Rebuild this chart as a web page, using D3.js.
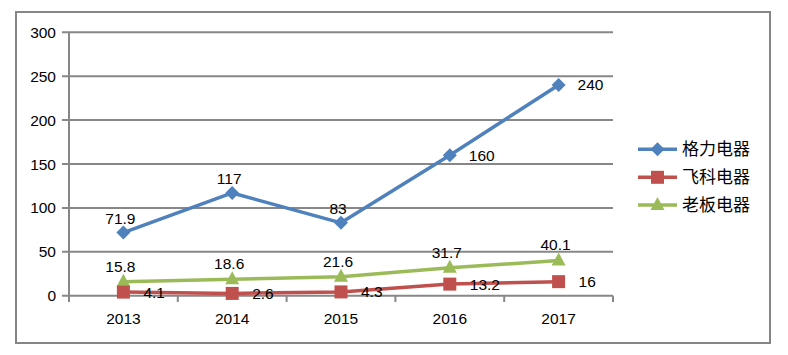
<!DOCTYPE html>
<html><head><meta charset="utf-8">
<script src="https://cdn.jsdelivr.net/npm/d3@7"></script>
<style>body{margin:0;background:#fff}svg{display:block}</style>
</head><body><svg id="c" width="788" height="355"></svg>
<script>
const years = ["2013","2014","2015","2016","2017"];
const gree = [71.9, 117, 83, 160, 240];
const flyco = [4.1, 2.6, 4.3, 13.2, 16];
const robam = [15.8, 18.6, 21.6, 31.7, 40.1];
const seriesNames = ["格力电器","飞科电器","老板电器"];
const yTicks = [0,50,100,150,200,250,300];

const svg = d3.select("#c");
const font = "'Liberation Sans', Arial, sans-serif";
const fs = 15.5;
const grid = "#878787";
svg.append("rect").attr("x",16).attr("y",12).attr("width",754).attr("height",331)
  .attr("fill","#fff").attr("stroke","#868686").attr("stroke-width",2);

const x = d3.scaleBand().domain(years).range([69,613]);
const y = d3.scaleLinear().domain([0,300]).range([295.7,32.3]);

// gridlines
svg.append("g").selectAll("line").data(yTicks).join("line")
  .attr("x1",62).attr("x2",613).attr("y1",d=>y(d)).attr("y2",d=>y(d))
  .attr("stroke",grid).attr("stroke-width",2);
svg.append("g").selectAll("text").data(yTicks).join("text")
  .attr("x",56).attr("y",d=>y(d)+5.5).attr("text-anchor","end")
  .attr("font-family",font).attr("font-size",fs).attr("fill","#000").text(d=>d);
// y axis line
svg.append("line").attr("x1",69).attr("x2",69).attr("y1",y(300)).attr("y2",302)
  .attr("stroke",grid).attr("stroke-width",2);
// x ticks
const xt = years.map(d=>x(d)).concat([x.range()[1]]);
svg.append("g").selectAll("line").data(xt).join("line")
  .attr("x1",d=>d).attr("x2",d=>d).attr("y1",y(0)).attr("y2",302)
  .attr("stroke",grid).attr("stroke-width",2);
svg.append("g").selectAll("text").data(years).join("text")
  .attr("x",d=>x(d)+x.bandwidth()/2).attr("y",324).attr("text-anchor","middle")
  .attr("font-family",font).attr("font-size",fs).attr("fill","#000").text(d=>d);

const cx = d=>x(d)+x.bandwidth()/2;
const series = [
  {name:seriesNames[0], vals:gree, color:"#4F81BD", marker:"diamond"},
  {name:seriesNames[1], vals:flyco, color:"#C0504D", marker:"square"},
  {name:seriesNames[2], vals:robam, color:"#9BBB59", marker:"triangle"}
];
const line = d3.line().x(d=>cx(d.k)).y(d=>y(d.v));
function marker(g, type, color, px, py){
  if(type==="diamond") g.append("path").attr("d",`M${px},${py-7}L${px+7},${py}L${px},${py+7}L${px-7},${py}Z`).attr("fill",color);
  else if(type==="square") g.append("rect").attr("x",px-6.5).attr("y",py-6.5).attr("width",13).attr("height",13).attr("fill",color);
  else g.append("path").attr("d",`M${px},${py-8}L${px+7},${py+5}L${px-7},${py+5}Z`).attr("fill",color);
}
const order = [2,1,0];
order.forEach(i=>{
  const s = series[i];
  const pts = s.vals.map((v,j)=>({k:years[j],v}));
  const g = svg.append("g");
  g.append("path").attr("d",line(pts)).attr("fill","none").attr("stroke",s.color).attr("stroke-width",3.5).attr("stroke-linejoin","round");
  pts.forEach(p=>marker(g,s.marker,s.color,cx(p.k),y(p.v)));
});
// data labels
const lab = svg.append("g").attr("font-family",font).attr("font-size",fs).attr("fill","#000");
gree.forEach((v,j)=>{
  const px=cx(years[j]), py=y(v);
  if(j<3) lab.append("text").attr("x",px-3).attr("y",py-9).attr("text-anchor","middle").text(v);
  else lab.append("text").attr("x",px+19).attr("y",py+5.5).text(v);
});
flyco.forEach((v,j)=>{
  lab.append("text").attr("x",cx(years[j])+20).attr("y",y(v)+5.5).text(v);
});
robam.forEach((v,j)=>{
  lab.append("text").attr("x",cx(years[j])-3).attr("y",y(v)-10).attr("text-anchor","middle").text(v);
});
// legend
const ly=[149.3,177.3,205];
series.forEach((s,i)=>{
  const g=svg.append("g");
  g.append("line").attr("x1",638).attr("x2",677).attr("y1",ly[i]).attr("y2",ly[i]).attr("stroke",s.color).attr("stroke-width",3.5);
  marker(g,s.marker,s.color,657.5,ly[i]);
  g.append("text").attr("x",682).attr("y",ly[i]+6).attr("font-family","'Noto Sans CJK SC', sans-serif").attr("font-size",17).attr("fill","#000").text(s.name);
});
</script></body></html>
